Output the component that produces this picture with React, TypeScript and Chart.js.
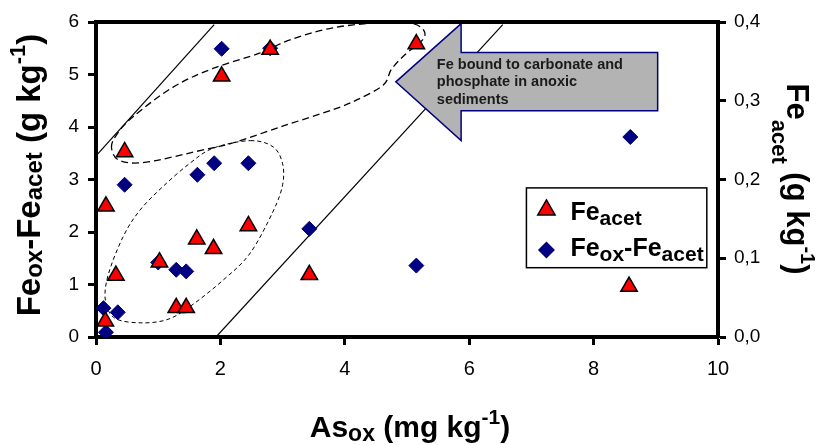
import React, { useEffect, useRef } from 'react';
import { Chart, registerables } from 'chart.js';

Chart.register(...registerables);

// ---- data ----
const feAcetAs: number[] = [0.15, 0.16, 0.32, 0.46, 1.02, 1.29, 1.45, 1.62, 1.89, 2.02, 2.45, 2.80, 3.43, 5.15, 8.57];
const feAcet: number[] = [0.020, 0.166, 0.078, 0.235, 0.095, 0.037, 0.037, 0.124, 0.112, 0.331, 0.141, 0.365, 0.079, 0.372, 0.064];

const feDiffAs: number[] = [0.16, 0.12, 0.35, 0.46, 1.00, 1.29, 1.45, 1.63, 1.90, 2.02, 2.45, 2.80, 3.43, 5.15, 8.59];
const feDiff: number[] = [0.09, 0.55, 0.47, 2.90, 1.42, 1.28, 1.25, 3.09, 3.31, 5.49, 3.31, 5.50, 2.06, 1.36, 3.81];

const xTickValues: number[] = [0, 2, 4, 6, 8, 10];
const yLeftTickValues: number[] = [0, 1, 2, 3, 4, 5, 6];
const yRightTickLabels: string[] = ['0,0', '0,1', '0,2', '0,3', '0,4'];

// ---- annotations (data coordinates) ----
const lineA: [number, number][] = [[0, 3.45], [1.9, 5.95]];
const lineB: [number, number][] = [[1.93, 0], [6.54, 5.95]];

const bigLoop: [number, number][] = [
  [0.25, 3.6], [0.33, 3.85], [0.6, 4.2], [1.24, 4.76], [1.89, 5.12], [2.64, 5.41],
  [3.12, 5.66], [3.81, 5.89], [4.6, 5.99], [5.08, 5.97], [5.27, 5.84], [5.25, 5.66],
  [4.97, 5.38], [4.75, 5.1], [4.62, 4.8], [4.2, 4.52], [3.81, 4.33], [3.01, 4.02],
  [2.21, 3.7], [1.67, 3.55], [0.81, 3.33], [0.38, 3.36],
];
const smallLoop: [number, number][] = [
  [2.48, 3.74], [2.85, 3.62], [3.0, 3.3], [3.0, 2.9], [2.85, 2.4], [2.48, 1.6],
  [2.05, 1.09], [1.51, 0.58], [1.14, 0.33], [0.71, 0.27], [0.3, 0.36], [0.15, 0.7],
  [0.2, 1.2], [0.44, 1.92], [0.71, 2.42], [1.08, 2.87], [1.51, 3.31], [1.89, 3.6],
];

const arrowShape = { tipX: 4.82, tipY: 4.86, headX: 5.87, headTop: 5.97, headBottom: 3.74, bodyTop: 5.42, bodyBottom: 4.31, bodyRight: 9.03 };
const arrowText: string[] = ['Fe bound to carbonate and', 'phosphate in anoxic', 'sediments'];
const arrowTextPos = { x: 5.48, ys: [5.18, 4.85, 4.52] };

const legendBox = { x0: 6.92, x1: 9.82, y0: 2.84, y1: 1.32 };

const FONT = '"Liberation Sans", Arial, Helvetica, sans-serif';

type Run = { t: string; k?: 'sub' | 'sup' };
type RichOpts = { size: number; subSize: number; subDy: number; supSize: number; supDy: number };

function runFont(r: Run, o: RichOpts) {
  const s = r.k === 'sub' ? o.subSize : r.k === 'sup' ? o.supSize : o.size;
  return `bold ${s}px ${FONT}`;
}
function richWidth(ctx: CanvasRenderingContext2D, runs: Run[], o: RichOpts) {
  let w = 0;
  for (const r of runs) { ctx.font = runFont(r, o); w += ctx.measureText(r.t).width; }
  return w;
}
function drawRich(ctx: CanvasRenderingContext2D, runs: Run[], x: number, y: number, o: RichOpts) {
  ctx.textAlign = 'left';
  ctx.textBaseline = 'alphabetic';
  let cx = x;
  for (const r of runs) {
    ctx.font = runFont(r, o);
    const dy = r.k === 'sub' ? o.subDy : r.k === 'sup' ? o.supDy : 0;
    ctx.fillText(r.t, cx, y + dy);
    cx += ctx.measureText(r.t).width;
  }
}

function smoothClosed(ctx: CanvasRenderingContext2D, pts: [number, number][]) {
  const n = pts.length;
  ctx.beginPath();
  ctx.moveTo(pts[0][0], pts[0][1]);
  for (let i = 0; i < n; i++) {
    const p0 = pts[(i - 1 + n) % n], p1 = pts[i], p2 = pts[(i + 1) % n], p3 = pts[(i + 2) % n];
    const c1x = p1[0] + (p2[0] - p0[0]) / 6, c1y = p1[1] + (p2[1] - p0[1]) / 6;
    const c2x = p2[0] - (p3[0] - p1[0]) / 6, c2y = p2[1] - (p3[1] - p1[1]) / 6;
    ctx.bezierCurveTo(c1x, c1y, c2x, c2y, p2[0], p2[1]);
  }
  ctx.closePath();
}

const decorPlugin = {
  id: 'decor',
  beforeDatasetsDraw(chart: any) {
    const { ctx, chartArea, scales } = chart;
    const X = (v: number) => scales.x.getPixelForValue(v);
    const Y = (v: number) => scales.y.getPixelForValue(v);
    ctx.save();
    ctx.beginPath();
    ctx.rect(chartArea.left, chartArea.top, chartArea.right - chartArea.left, chartArea.bottom - chartArea.top);
    ctx.clip();
    // solid lines
    ctx.strokeStyle = '#000';
    ctx.lineWidth = 1.2;
    ctx.setLineDash([]);
    for (const l of [lineA, lineB]) {
      ctx.beginPath();
      ctx.moveTo(X(l[0][0]), Y(l[0][1]));
      ctx.lineTo(X(l[1][0]), Y(l[1][1]));
      ctx.stroke();
    }
    // dashed loops
    ctx.lineWidth = 1.3;
    ctx.setLineDash([7, 4]);
    smoothClosed(ctx, bigLoop.map(p => [X(p[0]), Y(p[1])] as [number, number]));
    ctx.stroke();
    ctx.lineWidth = 1;
    ctx.setLineDash([4, 3]);
    smoothClosed(ctx, smallLoop.map(p => [X(p[0]), Y(p[1])] as [number, number]));
    ctx.stroke();
    ctx.setLineDash([]);
    // arrow
    const a = arrowShape;
    ctx.beginPath();
    ctx.moveTo(X(a.tipX), Y(a.tipY));
    ctx.lineTo(X(a.headX), Y(a.headTop));
    ctx.lineTo(X(a.headX), Y(a.bodyTop));
    ctx.lineTo(X(a.bodyRight), Y(a.bodyTop));
    ctx.lineTo(X(a.bodyRight), Y(a.bodyBottom));
    ctx.lineTo(X(a.headX), Y(a.bodyBottom));
    ctx.lineTo(X(a.headX), Y(a.headBottom));
    ctx.closePath();
    ctx.fillStyle = '#b3b3b3';
    ctx.fill();
    ctx.strokeStyle = '#000080';
    ctx.lineWidth = 1.5;
    ctx.stroke();
    ctx.fillStyle = '#1a1a1a';
    ctx.font = `bold 14.5px ${FONT}`;
    ctx.textAlign = 'left';
    ctx.textBaseline = 'middle';
    arrowText.forEach((t, i) => ctx.fillText(t, X(arrowTextPos.x), Y(arrowTextPos.ys[i])));
    ctx.restore();
  },
  afterDraw(chart: any) {
    const { ctx, chartArea, scales } = chart;
    const X = (v: number) => scales.x.getPixelForValue(v);
    const Y = (v: number) => scales.y.getPixelForValue(v);
    ctx.save();
    // top frame
    ctx.strokeStyle = '#000';
    ctx.lineWidth = 4;
    ctx.beginPath();
    ctx.moveTo(chartArea.left - 2, chartArea.top);
    ctx.lineTo(chartArea.right + 2, chartArea.top);
    ctx.stroke();

    // legend
    const lx0 = X(legendBox.x0), lx1 = X(legendBox.x1), ly0 = Y(legendBox.y0), ly1 = Y(legendBox.y1);
    ctx.fillStyle = '#fff';
    ctx.fillRect(lx0, ly0, lx1 - lx0, ly1 - ly0);
    ctx.strokeStyle = '#000';
    ctx.lineWidth = 1.5;
    ctx.strokeRect(lx0, ly0, lx1 - lx0, ly1 - ly0);
    const mx = lx0 + 20;
    const row1 = ly0 + 20, row2 = ly0 + 62;
    // triangle marker
    const r = 10;
    ctx.beginPath();
    for (let i = 0; i < 3; i++) {
      const ang = i * 2 * Math.PI / 3;
      const px = mx + Math.sin(ang) * r, py = row1 + 2 - Math.cos(ang) * r;
      if (i === 0) ctx.moveTo(px, py); else ctx.lineTo(px, py);
    }
    ctx.closePath();
    ctx.fillStyle = '#ff0000';
    ctx.fill();
    ctx.strokeStyle = '#000';
    ctx.lineWidth = 1.5;
    ctx.stroke();
    // diamond marker
    const d = 8.5;
    ctx.beginPath();
    ctx.moveTo(mx - d, row2);
    ctx.lineTo(mx, row2 - d);
    ctx.lineTo(mx + d, row2);
    ctx.lineTo(mx, row2 + d);
    ctx.closePath();
    ctx.fillStyle = '#000080';
    ctx.fill();
    ctx.fillStyle = '#000';
    const lo: RichOpts = { size: 25, subSize: 21, subDy: 5, supSize: 18, supDy: -10 };
    drawRich(ctx, [{ t: 'Fe' }, { t: 'acet', k: 'sub' }], lx0 + 44, row1 + 12, lo);
    drawRich(ctx, [{ t: 'Fe' }, { t: 'ox', k: 'sub' }, { t: '-Fe' }, { t: 'acet', k: 'sub' }], lx0 + 44, row2 + 6, lo);

    // left axis title
    const leftRuns: Run[] = [{ t: 'Fe' }, { t: 'ox', k: 'sub' }, { t: '-Fe' }, { t: 'acet', k: 'sub' }, { t: ' (g kg' }, { t: '-1', k: 'sup' }, { t: ')' }];
    const lopt: RichOpts = { size: 33, subSize: 24, subDy: 2, supSize: 22, supDy: -15 };
    const lw = richWidth(ctx, leftRuns, lopt);
    ctx.save();
    ctx.translate(40, 175);
    ctx.rotate(-Math.PI / 2);
    drawRich(ctx, leftRuns, -lw / 2, 0, lopt);
    ctx.restore();

    // right axis title
    const rightRuns: Run[] = [{ t: 'Fe' }, { t: 'acet', k: 'sub' }, { t: ' (g kg' }, { t: '-1', k: 'sup' }, { t: ')' }];
    const ropt: RichOpts = { size: 31, subSize: 22, subDy: 15, supSize: 20, supDy: -14 };
    const rw = richWidth(ctx, rightRuns, ropt);
    ctx.save();
    ctx.translate(787, 179);
    ctx.rotate(Math.PI / 2);
    drawRich(ctx, rightRuns, -rw / 2, 0, ropt);
    ctx.restore();

    // x axis title
    const xRuns: Run[] = [{ t: 'As' }, { t: 'ox', k: 'sub' }, { t: ' (mg kg' }, { t: '-1', k: 'sup' }, { t: ')' }];
    const xopt: RichOpts = { size: 30, subSize: 23, subDy: 4, supSize: 21, supDy: -13 };
    const xw = richWidth(ctx, xRuns, xopt);
    drawRich(ctx, xRuns, 410 - xw / 2, 437, xopt);
    ctx.restore();
  },
};

export default function App() {
  const ref = useRef<HTMLCanvasElement | null>(null);
  useEffect(() => {
    if (!ref.current) return;
    const yTickFont = { family: FONT, size: 19 };
    const xTickFont = { family: FONT, size: 20 };
    const chart = new Chart(ref.current, {
      type: 'scatter',
      data: {
        datasets: [
          {
            label: 'Fe acet',
            data: feAcetAs.map((x, i) => ({ x, y: feAcet[i] })),
            yAxisID: 'y2',
            pointStyle: 'triangle',
            pointRadius: 9.5,
            pointHoverRadius: 9.5,
            backgroundColor: '#ff0000',
            borderColor: '#000',
            borderWidth: 1.5,
          },
          {
            label: 'Fe ox - Fe acet',
            data: feDiffAs.map((x, i) => ({ x, y: feDiff[i] })),
            yAxisID: 'y',
            pointStyle: 'rectRot',
            pointRadius: 7.5,
            pointHoverRadius: 7.5,
            backgroundColor: '#000080',
            borderColor: '#000080',
            borderWidth: 1,
          },
        ],
      },
      options: {
        responsive: false,
        animation: false,
        devicePixelRatio: 1,
        layout: { padding: { top: 22, left: 0, right: 0, bottom: 0 } },
        plugins: { legend: { display: false }, tooltip: { enabled: false } },
        events: [],
        scales: {
          x: {
            type: 'linear',
            min: 0,
            max: 10,
            afterBuildTicks: (s: any) => { s.ticks = xTickValues.map(v => ({ value: v })); },
            ticks: { font: xTickFont, color: '#000', padding: 12, callback: (v: any) => String(v) },
            grid: { drawOnChartArea: false, drawTicks: true, tickLength: 8, tickWidth: 3, tickColor: '#000' },
            border: { display: true, color: '#000', width: 4 },
            afterFit: (s: any) => { s.height = 108; },
          },
          y: {
            type: 'linear',
            position: 'left',
            min: 0,
            max: 6,
            afterBuildTicks: (s: any) => { s.ticks = yLeftTickValues.map(v => ({ value: v })); },
            ticks: { font: yTickFont, color: '#000', padding: 9, callback: (v: any) => String(v) },
            grid: { drawOnChartArea: false, drawTicks: true, tickLength: 8, tickWidth: 3, tickColor: '#000' },
            border: { display: true, color: '#000', width: 4 },
            afterFit: (s: any) => { s.width = 96; },
          },
          y2: {
            type: 'linear',
            position: 'right',
            min: 0,
            max: 0.4,
            afterBuildTicks: (s: any) => { s.ticks = yRightTickLabels.map((_, i) => ({ value: i / 10 })); },
            ticks: { font: yTickFont, color: '#000', padding: 8, callback: (_v: any, i: number) => yRightTickLabels[i] },
            grid: { drawOnChartArea: false, drawTicks: true, tickLength: 8, tickWidth: 3, tickColor: '#000' },
            border: { display: true, color: '#000', width: 4 },
            afterFit: (s: any) => { s.width = 99; },
          },
        },
      } as any,
      plugins: [decorPlugin],
    });
    return () => chart.destroy();
  }, []);
  return (
    <div style={{ position: 'fixed', left: 0, top: 0, width: 817, height: 445, background: '#fff' }}>
      <canvas ref={ref} width={817} height={445} style={{ width: 817, height: 445, display: 'block' }} />
    </div>
  );
}
